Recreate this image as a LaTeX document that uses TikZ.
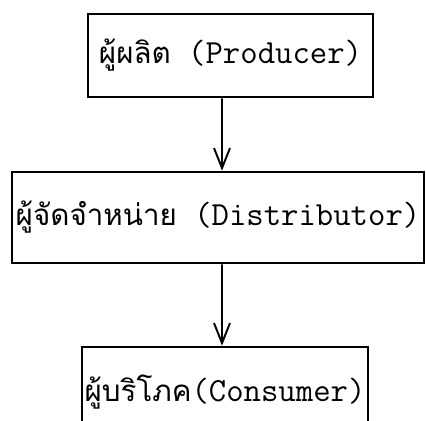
\documentclass[tikz,border=0pt]{standalone}
\usepackage{fontspec}
\newfontfamily\thaifont[Script=Thai]{Loma}
\usetikzlibrary{arrows.meta}
\tikzset{
  box/.style={rectangle,draw,line width=1.8pt,inner sep=0pt},
  flow/.style={->,line width=1.4pt},
}
\newcommand{\lbl}[2]{{\thaifont\fontsize{21}{25}\selectfont #1}{\ttfamily\fontsize{24}{27}\selectfont #2}}
\begin{document}
\begin{tikzpicture}[x=0.025cm,y=-0.025cm,>={Straight Barb[length=5mm,width=4mm]}]
\useasboundingbox (0,0) rectangle (426,420);
\node (prod) [box,minimum width=7.125cm,minimum height=2.075cm] at (230.5,55.5) {\lbl{ผู้ผลิต}{ (Producer)}};
\node (dist) [box,minimum width=10.3cm,minimum height=2.275cm] at (218,217.5) {\lbl{ผู้จัดจำหน่าย}{ (Distributor)}};
\node (cons) [box,minimum width=7.15cm,minimum height=2.25cm] at (225,392) {\lbl{ผู้บริโภค}{(Consumer)}};
\path[flow] ([xshift=-0.2125cm]prod.south) edge ([xshift=0.1cm]dist.north)
            ([xshift=0.1cm]dist.south) edge ([xshift=-0.075cm]cons.north);
\end{tikzpicture}
\end{document}
